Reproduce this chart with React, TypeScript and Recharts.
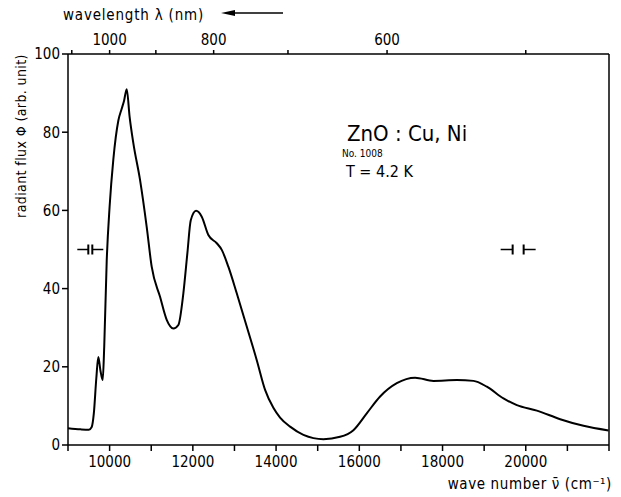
import React from 'react';
import { LineChart, Line, XAxis, YAxis, ReferenceLine, ReferenceDot, Customized } from 'recharts';

const wavenumber = [9000, 9300, 9500, 9570, 9620, 9680, 9728, 9780, 9834, 9870, 9930, 10000, 10089, 10210, 10290, 10346, 10411, 10480, 10570, 10731, 10891, 11011, 11212, 11372, 11532, 11652, 11772, 11868, 11950, 12077, 12214, 12373, 12575, 12695, 12853, 13055, 13295, 13536, 13736, 13935, 14096, 14337, 14657, 15137, 15538, 15858, 16179, 16500, 16901, 17341, 17781, 18344, 18744, 19064, 19464, 19786, 20267, 20827, 21387, 21988];
const flux = [4.3, 4.0, 3.9, 4.6, 8, 17, 22.5, 19, 16.6, 25, 47, 61, 73, 83, 86, 88, 91, 84, 77.2, 67.8, 55.8, 45.6, 37.9, 32, 29.8, 30.7, 38.8, 49, 57.5, 59.9, 58.4, 53.7, 51.6, 49.9, 45.6, 38.8, 30.3, 21.7, 14.1, 9.5, 7, 4.7, 2.6, 1.5, 2.1, 3.8, 8.1, 12.4, 15.8, 17.2, 16.4, 16.6, 16.4, 14.9, 11.9, 10.2, 8.8, 6.6, 4.9, 3.7];

const bottomTicks = [9000, 10000, 11000, 12000, 13000, 14000, 15000, 16000, 17000, 18000, 19000, 20000, 21000, 22000];
const bottomLabelled = [10000, 12000, 14000, 16000, 18000, 20000];
const wavelengthTicks = [1100, 1000, 900, 800, 700, 600, 500];
const wavelengthLabelled = [1000, 800, 600];
const yTicks = [0, 20, 40, 60, 80, 100];
const breakMarks = [
  { x: 9536, y: 50, gap: 2, arm: 11 },
  { x: 19817, y: 50, gap: 5.5, arm: 12 },
];

const data = wavenumber.map((v, i) => ({ v, flux: flux[i] }));
const FONT = '"DejaVu Sans Condensed", "DejaVu Sans", sans-serif';

const BreakShape = (props: any) => {
  const { cx, cy, gap, arm } = props;
  return (
    <g stroke="#000" strokeWidth={1.5}>
      <line x1={cx - gap - arm} y1={cy} x2={cx - gap} y2={cy} />
      <line x1={cx - gap} y1={cy - 5} x2={cx - gap} y2={cy + 5} strokeWidth={2} />
      <line x1={cx + gap} y1={cy - 5} x2={cx + gap} y2={cy + 5} strokeWidth={2} />
      <line x1={cx + gap} y1={cy} x2={cx + gap + arm} y2={cy} />
    </g>
  );
};

const Annotations = () => (
  <g fontFamily={FONT} fill="#000">
    <text x={63} y={20} fontSize={15} letterSpacing={0.8}>wavelength λ (nm)</text>
    <line x1={228} y1={13} x2={283} y2={13} stroke="#000" strokeWidth={1.3} />
    <polygon points="221,13 235,10 235,16" fill="#000" />
    <text x={612} y={489} fontSize={15} letterSpacing={0.6} textAnchor="end">wave number ν̄ (cm⁻¹)</text>
    <text x={0} y={0} fontSize={14} letterSpacing={0.4} textAnchor="middle" transform="translate(26,136) rotate(-90)">radiant flux Φ (arb. unit)</text>
    <text x={347} y={141} fontSize={22}>ZnO : Cu, Ni</text>
    <text x={342} y={157} fontSize={10}>No. 1008</text>
    <text x={346} y={177} fontSize={16}>T = 4.2 K</text>
  </g>
);

export default function App() {
  return (
    <div style={{ position: 'absolute', left: 0, top: 0, background: '#fff' }}>
      <LineChart
        width={621}
        height={497}
        data={data}
        margin={{ top: 24, right: 12, bottom: 22, left: 28 }}
        style={{ fontFamily: FONT }}
      >
        <XAxis
          dataKey="v"
          type="number"
          domain={[9000, 22000]}
          ticks={bottomTicks}
          interval={0}
          height={30}
          tickSize={6}
          tickMargin={5}
          stroke="#000"
          strokeWidth={1.5}
          tick={{ fill: '#000', fontSize: 15 }}
          tickFormatter={(v: number) => (bottomLabelled.includes(v) ? String(v) : '')}
          allowDataOverflow
        />
        <XAxis
          xAxisId="top"
          dataKey="v"
          orientation="top"
          type="number"
          domain={[9000, 22000]}
          ticks={wavelengthTicks.map((nm) => 1e7 / nm)}
          interval={0}
          height={30}
          tickSize={4}
          tickMargin={5}
          stroke="#000"
          strokeWidth={1.5}
          tick={{ fill: '#000', fontSize: 15 }}
          tickFormatter={(v: number) => {
            const nm = Math.round(1e7 / v);
            return wavelengthLabelled.includes(nm) ? String(nm) : '';
          }}
          allowDataOverflow
        />
        <YAxis
          type="number"
          domain={[0, 100]}
          ticks={yTicks}
          interval={0}
          width={40}
          tickSize={6}
          tickMargin={2}
          stroke="#000"
          strokeWidth={1.5}
          tick={{ fill: '#000', fontSize: 15 }}
          allowDataOverflow
        />
        <ReferenceLine x={22000} stroke="#000" strokeWidth={1.5} ifOverflow="visible" />
        <Line
          xAxisId="top"
          dataKey="flux"
          type="monotone"
          stroke="none"
          strokeWidth={0}
          dot={false}
          activeDot={false}
          legendType="none"
          isAnimationActive={false}
        />
        <Line
          dataKey="flux"
          type="monotone"
          stroke="#000"
          strokeWidth={2}
          dot={false}
          isAnimationActive={false}
        />
        {breakMarks.map((b, i) => (
          <ReferenceDot
            key={i}
            x={b.x}
            y={b.y}
            r={0}
            ifOverflow="visible"
            shape={(p: any) => <BreakShape {...p} gap={b.gap} arm={b.arm} />}
          />
        ))}
        <Customized component={Annotations} />
      </LineChart>
    </div>
  );
}
